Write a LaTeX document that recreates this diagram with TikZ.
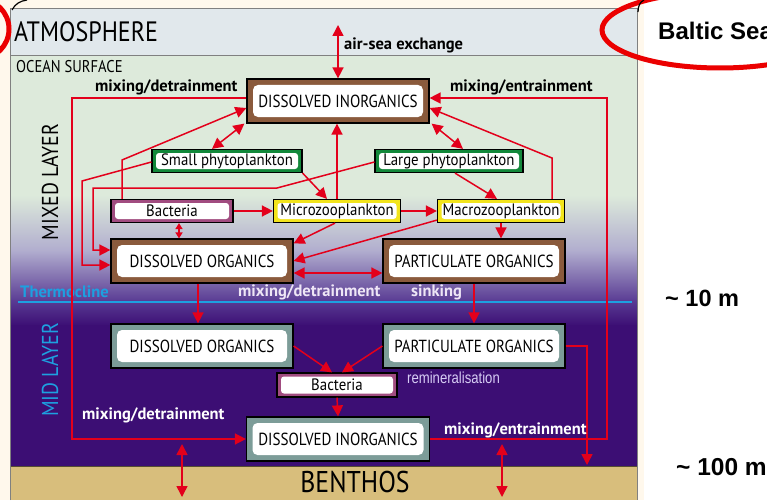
\documentclass[tikz,border=0pt]{standalone}
\usepackage{fontspec}
\newfontfamily\lblfont[FakeStretch=0.86]{PT Sans}
\newfontfamily\plankfont[FakeStretch=0.9]{PT Sans}
\newfontfamily\labfont{PT Sans}
\newfontfamily\arialfont{Liberation Sans}
\newfontfamily\remfont[FakeStretch=0.82]{Liberation Sans}
\usetikzlibrary{arrows.meta,positioning,calc}

\definecolor{flow}{RGB}{227,0,27}
\definecolor{atmos}{RGB}{225,232,236}
\definecolor{surf}{RGB}{221,234,219}
\definecolor{haze}{RGB}{176,172,206}
\definecolor{thermo}{RGB}{90,60,148}
\definecolor{deep}{RGB}{60,14,116}
\definecolor{sand}{RGB}{216,190,124}
\definecolor{cream}{RGB}{255,248,236}
\definecolor{cyanline}{RGB}{29,160,224}
\definecolor{brownbox}{RGB}{138,90,60}
\definecolor{greenbox}{RGB}{18,136,58}
\definecolor{bactbox}{RGB}{161,76,128}
\definecolor{yellowbox}{RGB}{242,228,28}
\definecolor{greybox}{RGB}{124,156,152}
\definecolor{paletext}{RGB}{238,230,246}
\definecolor{remtext}{RGB}{215,205,245}
\definecolor{ring}{RGB}{235,0,0}

\tikzset{
    pool/.style={ % big pools, coloured frame round a white card
        draw=black, line width=1.2pt, fill=#1,
        minimum width=182pt, minimum height=44pt, inner sep=0pt,
        font=\lblfont\fontsize{17.5}{17.5}\selectfont,
        path picture={\fill[white, rounded corners=5pt]
            ([shift={(6pt,-6pt)}]path picture bounding box.north west) rectangle
            ([shift={(-6pt,6pt)}]path picture bounding box.south east);}},
    plank/.style={ % small boxes for the organisms
        draw=black, line width=1.2pt, fill=#1,
        minimum height=23pt, inner sep=0pt,
        font=\plankfont\fontsize{16.5}{16.5}\selectfont,
        path picture={\fill[white, rounded corners=3pt]
            ([shift={(4pt,-3.5pt)}]path picture bounding box.north west) rectangle
            ([shift={(-4pt,3.5pt)}]path picture bounding box.south east);}},
    lab/.style={font=\labfont\bfseries\fontsize{16.5}{16.5}\selectfont, inner sep=0pt},
    layer/.style={font=\lblfont\fontsize{#1}{#1}\selectfont, inner sep=0pt},
    flux/.style={draw=flow, line width=1.5pt, -{Triangle[length=11pt,width=11pt]}},
    twoway/.style={flux, {Triangle[length=11pt,width=11pt]}-{Triangle[length=11pt,width=11pt]}}
}

\begin{document}
\begin{tikzpicture}[x=1pt,y=-1pt]
    \useasboundingbox (0,0) rectangle (767,500);
    \fill[white] (0,0) rectangle (767,500);
    \fill[cream] (0,0) rectangle (644,500);

    % layers
    \fill[atmos] (10,9) rectangle (637,55);
    \fill[surf] (10,55) rectangle (637,196);
    \shade[top color=surf, bottom color=haze] (10,195) rectangle (637,252);
    \shade[top color=haze, bottom color=thermo] (10,251) rectangle (637,301);
    \shade[top color=thermo, bottom color=deep] (10,300) rectangle (637,326);
    \fill[deep] (10,325) rectangle (637,466);
    \fill[sand] (10,466) rectangle (637,500);
    \draw[gray, line width=0.8pt] (10,55) -- (637,55);
    \draw[black!60!sand, line width=0.8pt] (10,466) -- (637,466);
    \draw[gray, line width=1pt] (10,500) |- (637,9) -- (637,500);
    \draw[cyanline, line width=2.5pt] (18,302) -- (632,302);

    \node[layer=28, anchor=west] (atm) at (14,32) {ATMOSPHERE};
    \node[layer=17, anchor=west] (surface) at (16,67) {OCEAN SURFACE};
    \node[layer=23, rotate=90] (mixed) at (50,182) {MIXED LAYER};
    \node[layer=23, rotate=90, text=cyanline] (mid) at (50,370) {MID LAYER};
    \node[lab, text=cyanline, anchor=west] (thermocline) at (20,292) {Thermocline};
    \node[layer=30] (benthos) at (355,482) {BENTHOS};

    % pools and organisms
    \node[pool=brownbox] (ditop) at (338,101) {DISSOLVED INORGANICS};
    \node[plank=greenbox, minimum width=150pt] (sphyto) at (227,161) {Small phytoplankton};
    \node[plank=greenbox, minimum width=148pt] (lphyto) at (449,161) {Large phytoplankton};
    \node[plank=bactbox, minimum width=122pt] (bacmix) at (172,211) {Bacteria};
    \node[plank=yellowbox, minimum width=127pt] (micro) at (337,211) {Microzooplankton};
    \node[plank=yellowbox, minimum width=127pt] (macro) at (501,211) {Macrozooplankton};
    \node[pool=brownbox] (domix) at (202,261) {DISSOLVED ORGANICS};
    \node[pool=brownbox, on grid, right=272pt of domix] (pomix) {PARTICULATE ORGANICS};
    \node[pool=greybox, on grid, below=85pt of domix] (domid) {DISSOLVED ORGANICS};
    \node[pool=greybox, on grid, right=272pt of domid] (pomid) {PARTICULATE ORGANICS};
    \node[plank=bactbox, minimum width=120pt, minimum height=24pt] (bacmid) at (337,385) {Bacteria};
    \node[pool=greybox, minimum width=183pt] (dibot) at (338,439) {DISSOLVED INORGANICS};

    % free ends and bends
    \coordinate (sky) at (338,25);
    \coordinate (lft) at (72,270);
    \coordinate (rgt) at (607,270);
    \coordinate (sbend) at (82,181);
    \coordinate (lbend) at (277,188);
    \coordinate (lbend2) at (93,188);
    \coordinate (bbend) at (122,160);
    \coordinate (mbend) at (552,158);
    \coordinate (sink) at (587,465);
    \coordinate (bedA) at (182,444);
    \coordinate (bedA2) at (182,497);
    \coordinate (bedB) at (502,444);
    \coordinate (bedB2) at (502,497);

    % exchanges
    \draw[twoway] (sky) -- (ditop.north);
    \draw[twoway] ([xshift=-2pt]ditop.south west) -- ([xshift=-15pt]sphyto.north);
    \draw[twoway] ([xshift=2pt]ditop.south east) -- ([xshift=14pt]lphyto.north);
    \draw[flux] (micro.north) -- (micro.north |- ditop.south);
    \draw[flux] ([xshift=-50pt]bacmix.north) -- (bbend) -- ([yshift=-7pt]ditop.west);
    \draw[flux] ([xshift=-13pt]macro.north east) -- (mbend) -- ([yshift=-7pt]ditop.east);
    \draw[flux] ([yshift=3pt]ditop.west) -| (lft) |- (dibot.west);
    \draw[flux] (dibot.east) -| (rgt) |- ([yshift=3pt]ditop.east);
    \draw[flux] ([yshift=-1pt]sphyto.west) -- (sbend) |- ([yshift=-4pt]domix.west);
    \draw[flux] ([yshift=-1pt]lphyto.west) -- (lbend) -- (lbend2) |- ([yshift=11pt]domix.west);
    \draw[draw=flow, line width=1.5pt, {Triangle[length=6pt,width=7pt]}-{Triangle[length=6pt,width=7pt]}]
        ([xshift=7pt]bacmix.south) -- ([xshift=7pt]bacmix.south |- domix.north);
    \draw[flux] (bacmix.east) -- (micro.west);
    \draw[flux] (sphyto.south east) -- ([xshift=-10pt]micro.north);
    \draw[flux] ([xshift=6pt]lphyto.south) -- ([xshift=-4pt]macro.north);
    \draw[flux] (micro.east) -- (macro.west);
    \draw[flux] ([xshift=-2pt]micro.south) -- ([yshift=-5pt]domix.north east);
    \draw[flux] ([yshift=3pt]macro.south west) -- (domix.east);
    \draw[flux] (macro.south) -- (macro.south |- pomix.north);
    \draw[twoway] ([yshift=-12pt]domix.east) -- ([yshift=-12pt]pomix.west);
    \draw[flux] ([xshift=-4pt]domix.south) -- ([xshift=-4pt]domid.north);
    \draw[flux] (pomix.south) -- (pomid.north);
    \draw[flux] (domid.east) -- ([xshift=-5pt]bacmid.north);
    \draw[flux] (pomid.west) -- ([xshift=5pt]bacmid.north);
    \draw[flux] (bacmid.south) -- (dibot.north);
    \draw[flux] (pomid.east) -| (sink);
    \draw[twoway] (bedA) -- (bedA2);
    \draw[twoway] (bedB) -- (bedB2);

    % labels
    \node[lab, anchor=west] (airsea) at (344,45) {air-sea exchange};
    \node[lab, anchor=west] (detop) at (95,87) {mixing/detrainment};
    \node[lab, anchor=west] (entop) at (450,87) {mixing/entrainment};
    \node[lab, anchor=west, text=paletext] (detmix) at (238,292) {mixing/detrainment};
    \node[lab, anchor=west, text=paletext] (sinking) at (411,292) {sinking};
    \node[anchor=west, inner sep=0pt, text=remtext, font=\remfont\fontsize{16}{16}\selectfont] (remin) at (407,378) {remineralisation};
    \node[lab, anchor=west, text=white] (detmid) at (82,415) {mixing/detrainment};
    \node[lab, anchor=west, text=white] (enmid) at (444,430) {mixing/entrainment};

    % side notes
    \draw[ring, line width=5pt] (720,30) ellipse [x radius=118pt, y radius=38pt];
    \draw[ring, line width=5pt] (-21,29) ellipse [x radius=30pt, y radius=30pt];
    \draw[black, line width=1.2pt] (638,12) .. controls (638,6) and (640,2) .. (644,0);
    \draw[black, line width=1.2pt] (12,10) .. controls (15,4) and (20,1) .. (27,0);
    \node[anchor=west, inner sep=0pt, font=\arialfont\bfseries\fontsize{24}{24}\selectfont] (baltic) at (658,31) {Baltic Sea};
    \node[anchor=west, inner sep=0pt, font=\arialfont\bfseries\fontsize{23.5}{23.5}\selectfont] (tenm) at (665,298) {\textasciitilde\ 10 m};
    \node[anchor=west, inner sep=0pt, font=\arialfont\bfseries\fontsize{24.5}{24.5}\selectfont] (hundredm) at (676,467) {\textasciitilde\ 100 m};
\end{tikzpicture}
\end{document}
